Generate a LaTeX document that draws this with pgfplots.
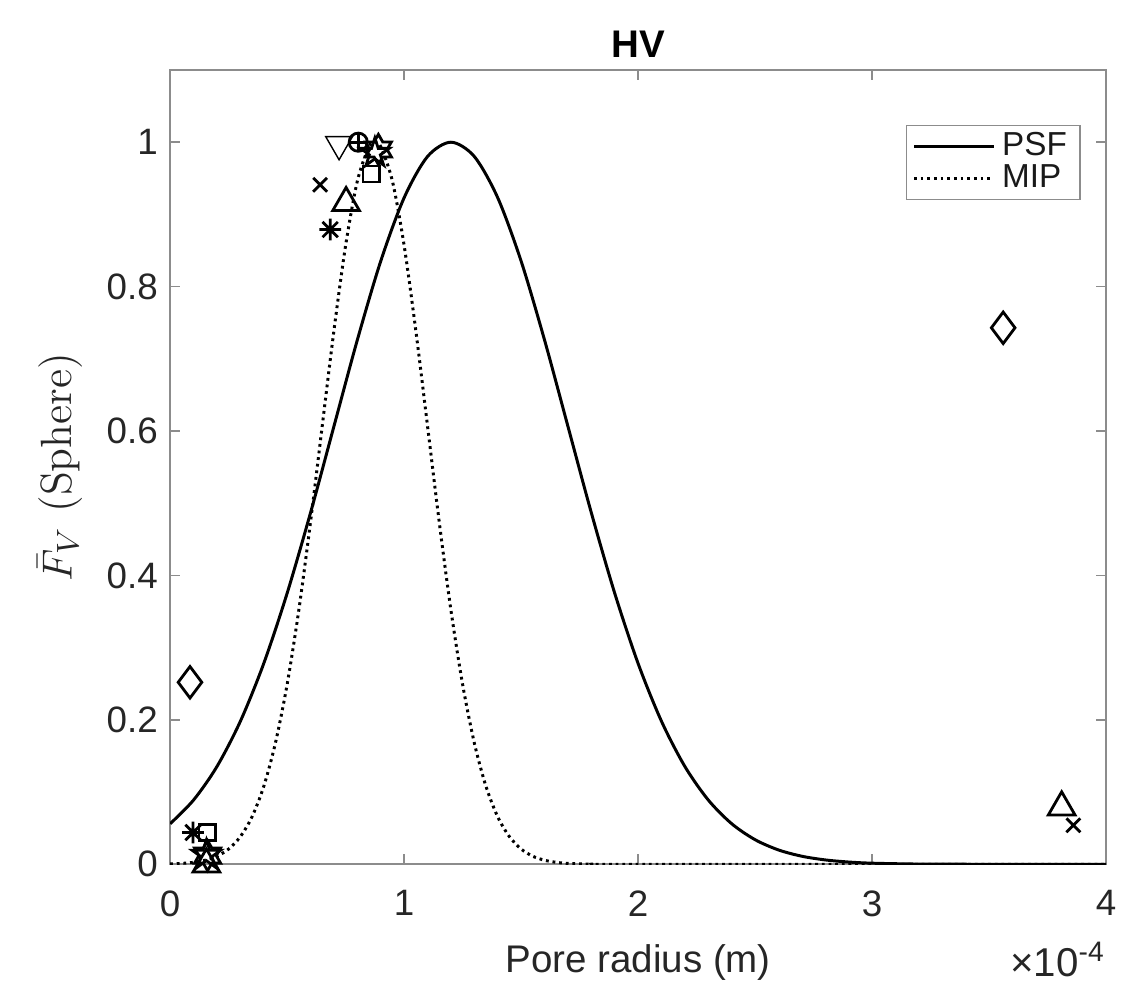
\documentclass[border=0pt]{standalone}
\usepackage{fontspec}
\setsansfont{Liberation Sans}
\usepackage{pgfplots}
\pgfplotsset{compat=1.18}
\usetikzlibrary{plotmarks}

\pgfdeclareplotmark{pentagram}{%
  \pgfpathmoveto{\pgfpointpolar{90}{\pgfplotmarksize}}%
  \pgfpathlineto{\pgfpointpolar{126}{0.382\pgfplotmarksize}}%
  \pgfpathlineto{\pgfpointpolar{162}{\pgfplotmarksize}}%
  \pgfpathlineto{\pgfpointpolar{198}{0.382\pgfplotmarksize}}%
  \pgfpathlineto{\pgfpointpolar{234}{\pgfplotmarksize}}%
  \pgfpathlineto{\pgfpointpolar{270}{0.382\pgfplotmarksize}}%
  \pgfpathlineto{\pgfpointpolar{306}{\pgfplotmarksize}}%
  \pgfpathlineto{\pgfpointpolar{342}{0.382\pgfplotmarksize}}%
  \pgfpathlineto{\pgfpointpolar{18}{\pgfplotmarksize}}%
  \pgfpathlineto{\pgfpointpolar{54}{0.382\pgfplotmarksize}}%
  \pgfpathclose\pgfusepathqstroke}
\pgfdeclareplotmark{hexagram}{%
  \pgfpathmoveto{\pgfpointpolar{90}{\pgfplotmarksize}}%
  \pgfpathlineto{\pgfpointpolar{120}{0.577\pgfplotmarksize}}%
  \pgfpathlineto{\pgfpointpolar{150}{\pgfplotmarksize}}%
  \pgfpathlineto{\pgfpointpolar{180}{0.577\pgfplotmarksize}}%
  \pgfpathlineto{\pgfpointpolar{210}{\pgfplotmarksize}}%
  \pgfpathlineto{\pgfpointpolar{240}{0.577\pgfplotmarksize}}%
  \pgfpathlineto{\pgfpointpolar{270}{\pgfplotmarksize}}%
  \pgfpathlineto{\pgfpointpolar{300}{0.577\pgfplotmarksize}}%
  \pgfpathlineto{\pgfpointpolar{330}{\pgfplotmarksize}}%
  \pgfpathlineto{\pgfpointpolar{0}{0.577\pgfplotmarksize}}%
  \pgfpathlineto{\pgfpointpolar{30}{\pgfplotmarksize}}%
  \pgfpathlineto{\pgfpointpolar{60}{0.577\pgfplotmarksize}}%
  \pgfpathclose\pgfusepathqstroke}
\pgfdeclareplotmark{mstar}{%
  \pgfpathmoveto{\pgfpointpolar{0}{\pgfplotmarksize}}\pgfpathlineto{\pgfpointpolar{180}{\pgfplotmarksize}}%
  \pgfpathmoveto{\pgfpointpolar{45}{\pgfplotmarksize}}\pgfpathlineto{\pgfpointpolar{225}{\pgfplotmarksize}}%
  \pgfpathmoveto{\pgfpointpolar{90}{\pgfplotmarksize}}\pgfpathlineto{\pgfpointpolar{270}{\pgfplotmarksize}}%
  \pgfpathmoveto{\pgfpointpolar{135}{\pgfplotmarksize}}\pgfpathlineto{\pgfpointpolar{315}{\pgfplotmarksize}}%
  \pgfusepathqstroke}

\pgfplotstableread{
x y
0.0 0.0561
0.1 0.0889
0.2 0.1353
0.3 0.1979
0.4 0.2780
0.5 0.3753
0.6 0.4868
0.7 0.6065
0.8 0.7261
0.9 0.8353
1.0 0.9231
1.1 0.9802
1.2 1.0000
1.3 0.9802
1.4 0.9231
1.5 0.8353
1.6 0.7261
1.7 0.6065
1.8 0.4868
1.9 0.3753
2.0 0.2780
2.1 0.1979
2.2 0.1353
2.3 0.0889
2.4 0.0561
2.5 0.0340
2.6 0.0198
2.7 0.0111
2.8 0.0060
2.9 0.0031
3.0 0.0015
3.2 0.0003
3.5 0.0000
4.0 0.0000
}\psf

\pgfplotstableread{
x y
0.00 0.0005
0.05 0.0012
0.10 0.0027
0.15 0.0056
0.20 0.0111
0.25 0.0211
0.30 0.0382
0.35 0.0657
0.40 0.1077
0.45 0.168
0.50 0.249
0.55 0.352
0.60 0.474
0.65 0.607
0.70 0.739
0.75 0.857
0.80 0.946
0.85 0.994
0.875 1.000
0.90 0.994
0.95 0.946
1.00 0.857
1.05 0.739
1.10 0.607
1.15 0.474
1.20 0.352
1.25 0.249
1.30 0.168
1.35 0.1077
1.40 0.0657
1.45 0.0382
1.50 0.0211
1.55 0.0111
1.60 0.0056
1.65 0.0027
1.70 0.0012
1.80 0.0002
2.00 0.0000
4.00 0.0000
}\mip

\begin{document}
\begin{tikzpicture}[font=\sffamily]
\begin{axis}[name=ax, scale only axis, width=267.4pt, height=226.9pt,
  xmin=0, xmax=4, ymin=0, ymax=1.1,
  xtick={0,1,2,3,4}, ytick={0,0.2,0.4,0.6,0.8,1},
  tick align=inside, xtick pos=both, ytick pos=both,
  major tick length=2.9pt,
  axis line style={black!45, line width=0.5pt},
  tick style={black!45, line width=0.5pt},
  tick label style={font=\fontsize{10.5}{12}\selectfont\sffamily, text=black!85},
  xticklabel style={yshift=-4pt},
  /pgf/number format/assume math mode=true,
  title={HV},
  title style={font=\fontsize{11}{13}\selectfont\sffamily\bfseries, yshift=-6pt},
  xlabel={Pore radius (m)},
  xlabel style={font=\fontsize{11}{13}\selectfont\sffamily, text=black!85, yshift=-1pt},
  ylabel={\rmfamily\fontsize{12.5}{15}\selectfont $\bar{F}_V$ (Sphere)},
  ylabel style={text=black!85},
  legend style={at={(0.973,0.931)}, anchor=north east, draw=black!45,
    font=\fontsize{9.5}{11}\selectfont\sffamily, text=black!90,
    inner xsep=1.8pt, inner ysep=0pt, row sep=-3pt},
  legend cell align=left,
  legend image code/.code={\draw[#1] (0cm,0cm) -- (0.8cm,0cm);},
  every axis plot/.append style={black},
]
\addplot[line width=0.85pt, smooth] table[x=x,y=y] {\psf};
\addlegendentry{PSF}
\addplot[line width=0.85pt, smooth, dash pattern=on 0.8pt off 1.1pt] table[x=x,y=y] {\mip};
\addlegendentry{MIP}

\pgfplotsset{every axis plot/.append style={only marks, forget plot, mark options={solid, line width=0.8pt}}}
\addplot[mark=triangle, mark size=4.4pt, mark options={rotate=180}] coordinates {(0.722,0.997)};
\addplot[mark=triangle, mark size=4.4pt] coordinates {(0.752,0.916) (0.155,0.0) (3.81,0.079)};
\addplot[mark=o, mark size=2.6pt] coordinates {(0.804,1.0)};
\addplot[mark=+, mark size=2.6pt] coordinates {(0.804,1.0)};
\addplot[mark=pentagram, mark size=4.3pt] coordinates {(0.875,0.985) (0.155,0.013)};
\addplot[mark=hexagram, mark size=4.3pt] coordinates {(0.89,0.99) (0.16,0.012)};
\addplot[mark=square, mark size=2.3pt] coordinates {(0.859,0.956) (0.158,0.044)};
\addplot[mark=x, mark size=2.8pt] coordinates {(0.641,0.941) (3.86,0.054)};
\addplot[mark=mstar, mark size=3.1pt] coordinates {(0.684,0.879) (0.098,0.044)};
\addplot[mark=diamond, mark size=4.5pt] coordinates {(0.085,0.252) (3.56,0.743)};
\end{axis}
\node[anchor=north east, font=\fontsize{11.5}{13}\selectfont\sffamily, text=black!85, inner sep=0pt]
  at ([yshift=-22pt, xshift=0pt]ax.south east) {×10\textsuperscript{-4}};
\pgfresetboundingbox
\path ([shift={(-48.6pt,-36.9pt)}]ax.south west) rectangle ([shift={(5.1pt,20pt)}]ax.north east);
\end{tikzpicture}
\end{document}
